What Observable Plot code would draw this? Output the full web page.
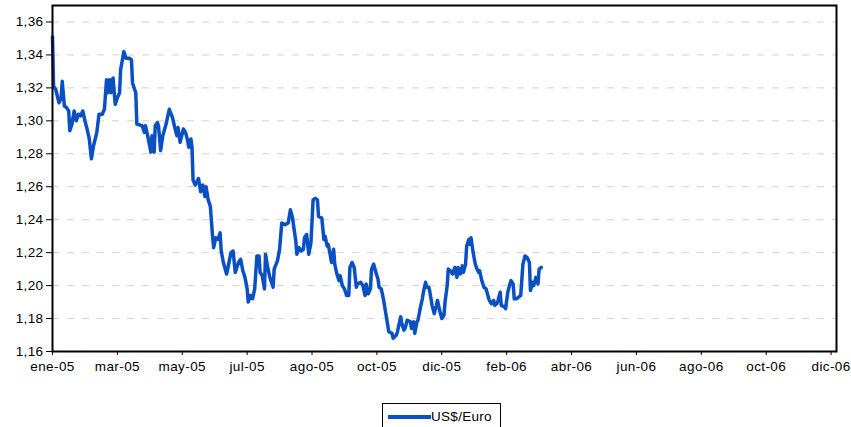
<!DOCTYPE html>
<html>
<head>
<meta charset="utf-8">
<script src="https://cdn.jsdelivr.net/npm/d3@7"></script>
<script src="https://cdn.jsdelivr.net/npm/@observablehq/plot@0.6"></script>
<style>
  html, body { margin: 0; padding: 0; background: #fff; }
  #wrap { position: relative; width: 851px; height: 427px; overflow: hidden; font-family: "Liberation Sans", Arial, sans-serif; }
  #chart svg text { letter-spacing: 0.4px; }
  #legend { position: absolute; left: 382px; top: 403px; width: 119px; height: 30px; border: 1px solid #000; box-sizing: border-box; background: #fff; }
  #legend .sw { position: absolute; left: 5px; top: 11px; width: 43px; height: 3.5px; background: #0A50C2; }
  #legend .lb { position: absolute; left: 48px; top: 5px; font-size: 13.5px; letter-spacing: 0.3px; color: #000; white-space: nowrap; }
</style>
</head>
<body>
<div id="wrap"><div id="chart"></div>
<div id="legend"><div class="sw"></div><div class="lb"></div></div></div>
<script>
// Series name
const seriesName = "US$/Euro";
// Days after 3 Jan 2005 (first observation) and exchange rate (US$ per Euro)
const days = [0,1,3,6,8,9,11,13,15,16,18,20,22,24,26,28,30,32,34,36,38,41,43,46,48,50,51,53,54,56,58,60,62,63,66,68,71,73,74,77,78,83,85,86,88,91,92,94,95,97,98,100,102,
105,108,111,113,115,116,118,121,123,125,126,128,129,130,132,135,137,139,141,142,144,146,148,149,151,153,155,156,158,161,162,165,167,169,172,174,176,178,180,181,183,185,187,189,191,192,194,196,197,199,201,204,205,208,210,212,
215,218,220,222,223,225,226,228,230,232,233,235,237,239,241,243,245,246,249,251,252,254,255,257,258,260,261,263,265,266,268,270,272,274,275,277,279,281,282,285,287,289,290,292,294,295,297,299,301,302,304,306,308,310,311,314,315,318,319,322,323,325,326,328,
331,332,334,335,337,338,340,342,343,345,346,348,349,351,353,355,356,358,360,362,363,365,366,368,370,372,374,375,377,379,380,382,383,385,386,387,389,391,392,394,395,397,399,401,403,404,406,408,409,411,412,414,415,418,419,421,423,424,426,427,429,431,433,435,437,439,441,442,444,445,447,449,450,452];
const values = [1.351,1.321,1.319,1.311,1.314,1.324,1.309,1.308,1.306,1.294,1.298,1.306,1.300,1.304,1.303,1.306,1.300,1.295,1.289,1.277,1.285,1.293,1.304,1.304,1.307,1.325,1.317,1.325,1.317,1.326,1.310,1.314,1.317,1.331,1.342,1.338,1.338,1.337,1.323,1.317,1.298,1.297,1.293,1.297,1.291,1.281,1.291,1.281,1.297,1.299,1.297,1.282,1.291,
1.298,1.307,1.302,1.296,1.291,1.296,1.287,1.295,1.293,1.288,1.284,1.289,1.284,1.264,1.261,1.265,1.257,1.261,1.254,1.260,1.252,1.248,1.230,1.223,1.229,1.228,1.232,1.221,1.214,1.207,1.210,1.220,1.221,1.208,1.214,1.216,1.209,1.205,1.198,1.190,1.194,1.192,1.198,1.218,1.218,1.208,1.206,1.198,1.219,1.211,1.205,1.199,1.210,1.215,1.222,1.238,
1.237,1.238,1.246,1.241,1.236,1.227,1.219,1.223,1.221,1.222,1.229,1.231,1.219,1.226,1.252,1.253,1.252,1.242,1.241,1.228,1.230,1.224,1.225,1.218,1.214,1.222,1.213,1.207,1.203,1.206,1.200,1.198,1.194,1.194,1.211,1.214,1.211,1.199,1.201,1.202,1.200,1.194,1.201,1.195,1.198,1.210,1.213,1.208,1.204,1.199,1.198,1.192,1.184,1.176,1.172,1.171,1.168,1.170,1.172,1.181,1.177,1.173,1.174,1.179,
1.178,1.174,1.178,1.171,1.178,1.179,1.186,1.192,1.196,1.202,1.199,1.199,1.196,1.188,1.183,1.188,1.191,1.185,1.180,1.182,1.190,1.200,1.210,1.209,1.207,1.211,1.205,1.211,1.207,1.212,1.208,1.213,1.224,1.228,1.225,1.229,1.220,1.213,1.211,1.208,1.209,1.203,1.199,1.198,1.193,1.191,1.189,1.191,1.188,1.189,1.191,1.196,1.188,1.187,1.186,1.196,1.201,1.203,1.201,1.192,1.192,1.193,1.194,1.213,1.218,1.217,1.214,1.197,1.202,1.200,1.205,1.201,1.210,1.211];
// X axis tick labels (one every 60 days from the first observation)
const tickLabels = ["ene-05","mar-05","may-05","jul-05","ago-05","oct-05","dic-05","feb-06","abr-06","jun-06","ago-06","oct-06","dic-06"];
const tickStepDays = 60;
// Y axis ticks
const yTicks = [1.16,1.18,1.20,1.22,1.24,1.26,1.28,1.30,1.32,1.34,1.36];

const start = new Date(Date.UTC(2005, 0, 3));
const end = new Date(Date.UTC(2006, 11, 29));
const data = days.map((d, i) => ({date: d3.utcDay.offset(start, d), value: values[i]}));
const tickDates = tickLabels.map((_, k) => d3.utcDay.offset(start, tickStepDays * k));
const labelOf = d => tickLabels[Math.round((d - start) / (tickStepDays * 864e5))];

const chart = Plot.plot({
  width: 851,
  height: 395,
  marginLeft: 52,
  marginRight: 15,
  marginTop: 5,
  marginBottom: 44,
  style: {fontFamily: "'Liberation Sans', Arial, sans-serif", fontSize: "13.5px", color: "#000", background: "#fff"},
  x: {type: "utc", domain: [start, end], ticks: tickDates, tickFormat: labelOf, tickSize: 4, tickPadding: 6, label: null},
  y: {domain: [1.16, 1.37], ticks: yTicks, tickFormat: d => d.toFixed(2).replace(".", ","), tickSize: 6, tickPadding: 3, label: null},
  marks: [
    Plot.ruleY(yTicks.slice(1), {stroke: "#cfd3d3", strokeWidth: 1, strokeDasharray: "7,8"}),
    Plot.line(data, {x: "date", y: "value", stroke: "#0A50C2", strokeWidth: 3.5, strokeLinejoin: "round"}),
    Plot.frame({stroke: "#000", strokeWidth: 2})
  ]
});
document.getElementById("chart").appendChild(chart);
document.querySelector("#legend .lb").textContent = seriesName;
</script>
</body>
</html>
